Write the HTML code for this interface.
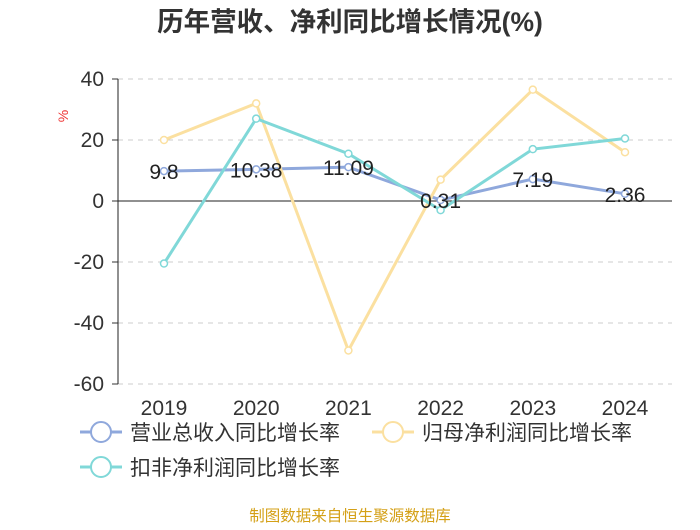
<!DOCTYPE html>
<html><head><meta charset="utf-8"><style>
body{margin:0;background:#fff;width:700px;height:525px;overflow:hidden;font-family:"Liberation Sans","Noto Sans CJK SC",sans-serif}
</style></head><body>
<svg width="700" height="525" id="c" font-family="Liberation Sans, Noto Sans CJK SC, sans-serif">
<text x="350" y="31" text-anchor="middle" font-size="26.5" font-weight="bold" fill="#333">历年营收、净利同比增长情况(%)</text>
<text x="68" y="116" font-size="14" fill="#e33" transform="rotate(-90 68 116)" text-anchor="middle">%</text>
<g id="grid"></g><g id="series"></g>
<g>
<g><line x1="80" y1="432" x2="122" y2="432" stroke="#8fa8dc" stroke-width="3"/><circle cx="101" cy="432" r="10" fill="#fff" stroke="#8fa8dc" stroke-width="2"/><text x="130" y="440" font-size="21" fill="#333">营业总收入同比增长率</text></g>
<g><line x1="372" y1="432" x2="414" y2="432" stroke="#fbe0a0" stroke-width="3"/><circle cx="393" cy="432" r="10" fill="#fff" stroke="#fbe0a0" stroke-width="2"/><text x="422" y="440" font-size="21" fill="#333">归母净利润同比增长率</text></g>
<g><line x1="80" y1="467" x2="122" y2="467" stroke="#80d8d8" stroke-width="3"/><circle cx="101" cy="467" r="10" fill="#fff" stroke="#80d8d8" stroke-width="2"/><text x="130" y="475" font-size="21" fill="#333">扣非净利润同比增长率</text></g>
</g>
<text x="350" y="521" text-anchor="middle" font-size="15.5" fill="#d4a017">制图数据来自恒生聚源数据库</text>
</svg>
<script>
const categories=["2019","2020","2021","2022","2023","2024"];
const revenue=[9.8,10.38,11.09,0.31,7.19,2.36];
const revenueLabels=["9.8","10.38","11.09","0.31","7.19","2.36"];
const netProfit=[20,32,-49,7,36.5,16];
const deducted=[-20.5,27,15.5,-3,17,20.5];
const yTicks=[40,20,0,-20,-40,-60];
const NS="http://www.w3.org/2000/svg";
function x(i){return 164+i*92.2;}
function y(v){return 201-v*3.05;}
function mk(t,a,p){const e=document.createElementNS(NS,t);for(const k in a)e.setAttribute(k,a[k]);p.appendChild(e);return e;}
const g=document.getElementById('grid');
yTicks.forEach(v=>{
 if(v!==0){const l=mk('line',{x1:118,x2:672,y1:y(v),y2:y(v),stroke:'#ccc','stroke-dasharray':'5,5'},g);
 
 }
 const tk=mk('line',{x1:112,x2:118,y1:y(v),y2:y(v),stroke:'#333'},g);
 
 
 const t=mk('text',{x:104,y:y(v)+7,'text-anchor':'end','font-size':21,fill:'#333'},g);t.textContent=v;
 
 
});
const ax=mk('line',{x1:118,x2:118,y1:y(40),y2:y(-60),stroke:'#222'},g);


const zx=mk('line',{x1:118,x2:672,y1:y(0),y2:y(0),stroke:'#222'},g);


categories.forEach((c,i)=>{const t=mk('text',{x:x(i),y:415,'text-anchor':'middle','font-size':21,fill:'#333'},g);t.textContent=c;
 
 });
const s=document.getElementById('series');
function draw(data,color,name){
 const p=mk('polyline',{points:data.map((v,i)=>x(i)+','+y(v)).join(' '),fill:'none',stroke:color,'stroke-width':3},s);
 
 
 data.forEach((v,i)=>{const c=mk('circle',{cx:x(i),cy:y(v),r:3.5,fill:'#fff',stroke:color,'stroke-width':1.5},s);
 
 });
}
draw(revenue,'#8fa8dc','revenue');
draw(netProfit,'#fbe0a0','net-profit');
draw(deducted,'#80d8d8','deducted-profit');
revenue.forEach((v,i)=>{const t=mk('text',{x:x(i),y:y(v)+8,'text-anchor':'middle','font-size':21,fill:'#222'},s);t.textContent=revenueLabels[i];
 
 });
</script>
</body></html>
